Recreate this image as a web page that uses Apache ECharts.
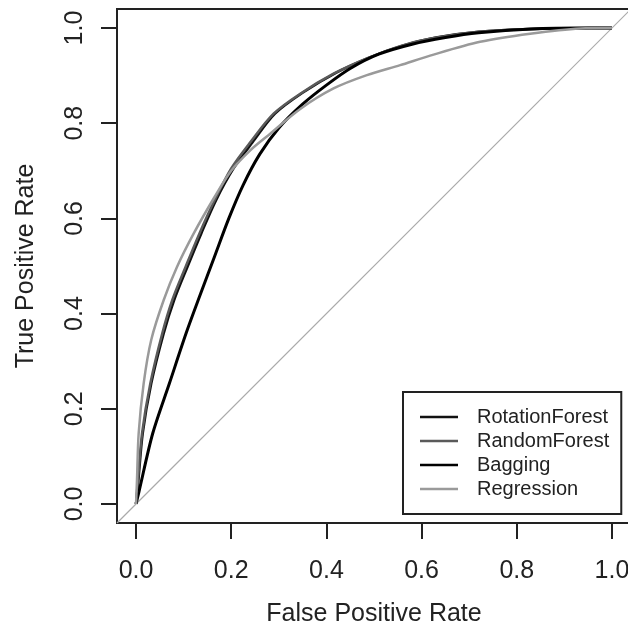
<!DOCTYPE html>
<html>
<head>
<meta charset="utf-8">
<script src="https://cdn.jsdelivr.net/npm/echarts@6/dist/echarts.min.js"></script>
<style>
  html, body { margin: 0; padding: 0; background: #fff; }
  #roc { width: 628px; height: 633px; }
</style>
</head>
<body>
<div id="roc"></div>
<script>
// tick labels
var tickValues = [0, 0.2, 0.4, 0.6, 0.8, 1.0];
var seriesNames = ['RotationForest', 'RandomForest', 'Bagging', 'Regression'];

// ROC points: [false positive rate, true positive rate]
var rotationForest = [
  [0, 0], [0.005, 0.05], [0.014, 0.148], [0.032, 0.253], [0.058, 0.358],
  [0.08, 0.428], [0.108, 0.498], [0.137, 0.568], [0.168, 0.638], [0.205, 0.705],
  [0.245, 0.76], [0.292, 0.82], [0.35, 0.864], [0.42, 0.906], [0.49, 0.938],
  [0.56, 0.963], [0.63, 0.98], [0.72, 0.992], [0.83, 0.998], [0.95, 1], [1, 1]
];
var randomForest = [
  [0, 0], [0.004, 0.05], [0.0126, 0.148], [0.03, 0.253], [0.055, 0.358],
  [0.076, 0.428], [0.104, 0.498], [0.133, 0.568], [0.165, 0.638], [0.2, 0.705],
  [0.24, 0.76], [0.289, 0.82], [0.345, 0.862], [0.415, 0.904], [0.485, 0.936],
  [0.555, 0.962], [0.62, 0.978], [0.72, 0.992], [0.83, 0.998], [1, 1]
];
var bagging = [
  [0, 0], [0.006, 0.025], [0.035, 0.148], [0.07, 0.253], [0.105, 0.358],
  [0.135, 0.44], [0.165, 0.52], [0.195, 0.6], [0.225, 0.67], [0.26, 0.735],
  [0.3, 0.79], [0.35, 0.84], [0.4, 0.88], [0.45, 0.915], [0.51, 0.945],
  [0.58, 0.966], [0.65, 0.98], [0.72, 0.99], [0.83, 0.998], [0.95, 1], [1, 1]
];
var regression = [
  [0, 0], [0.002, 0.05], [0.0055, 0.148], [0.016, 0.253], [0.032, 0.345],
  [0.058, 0.428], [0.086, 0.498], [0.121, 0.568], [0.165, 0.645], [0.2, 0.7],
  [0.24, 0.743], [0.282, 0.778], [0.345, 0.83], [0.415, 0.873], [0.485, 0.901],
  [0.555, 0.922], [0.618, 0.942], [0.723, 0.971], [0.828, 0.988], [0.933, 0.999], [1, 1]
];
// chance line, drawn across the whole plot range
var diagonal = [[-0.04, -0.04], [1.04, 1.04]];

var axisFont = 'Liberation Sans, Arial, sans-serif';

function rocSeries(name, data, color, width) {
  return {
    name: name,
    type: 'line',
    data: data,
    symbol: 'none',
    smooth: 0.3,
    lineStyle: { color: color, width: width },
    itemStyle: { color: color }
  };
}

// hidden helper axis whose zero sits on the frame edge; the visible axis is put "on zero" of it
function edgeAxis() {
  return { type: 'value', min: 0, max: 1.08, show: false, splitLine: { show: false } };
}

var chart = echarts.init(document.getElementById('roc'));
chart.setOption({
  animation: false,
  backgroundColor: '#fff',
  grid: {
    left: 117, top: 9, width: 514, height: 514,
    outerBoundsMode: 'none',
    show: true, borderColor: '#222', borderWidth: 2, backgroundColor: '#fff'
  },
  legend: {
    data: seriesNames,
    orient: 'vertical',
    left: 403, top: 392,
    padding: [15, 12, 15, 17],
    icon: 'rect',
    itemWidth: 38, itemHeight: 2.5, itemGap: 4,
    backgroundColor: '#fff',
    borderColor: '#222', borderWidth: 2, borderRadius: 0,
    textStyle: { fontFamily: axisFont, fontSize: 20, color: '#222', lineHeight: 20, padding: [0, 0, 0, 14] }
  },
  xAxis: [{
    type: 'value', min: -0.04, max: 1.04, position: 'bottom',
    splitLine: { show: false },
    axisLine: { show: false, onZero: true, onZeroAxisIndex: 1 },
    axisTick: { show: true, customValues: tickValues, length: 16, lineStyle: { color: '#222', width: 2 } },
    axisLabel: { customValues: tickValues, margin: 36, fontFamily: axisFont, fontSize: 25, color: '#222',
      formatter: function (v) { return v.toFixed(1); } },
    name: 'False Positive Rate', nameLocation: 'middle', nameGap: 79,
    nameTextStyle: { fontFamily: axisFont, fontSize: 25, color: '#222' }
  }, edgeAxis()],
  yAxis: [{
    type: 'value', min: -0.04, max: 1.04, position: 'left',
    splitLine: { show: false },
    axisLine: { show: false, onZero: true, onZeroAxisIndex: 1 },
    axisTick: { show: true, customValues: tickValues, length: 16, lineStyle: { color: '#222', width: 2 } },
    axisLabel: { customValues: tickValues, margin: 29, rotate: 90, fontFamily: axisFont, fontSize: 25, color: '#222',
      formatter: function (v) { return v.toFixed(1); } },
    name: 'True Positive Rate', nameLocation: 'middle', nameGap: 78, nameRotate: 90,
    nameTextStyle: { fontFamily: axisFont, fontSize: 25, color: '#222' }
  }, edgeAxis()],
  series: [
    {
      name: 'diagonal', type: 'line', data: diagonal, symbol: 'none',
      lineStyle: { color: '#aaa', width: 1.2 }, silent: true
    },
    rocSeries('RotationForest', rotationForest, '#111', 2.5),
    rocSeries('RandomForest', randomForest, '#5a5a5a', 2.5),
    rocSeries('Bagging', bagging, '#000', 3),
    rocSeries('Regression', regression, '#9a9a9a', 2.5)
  ]
});
</script>
</body>
</html>
